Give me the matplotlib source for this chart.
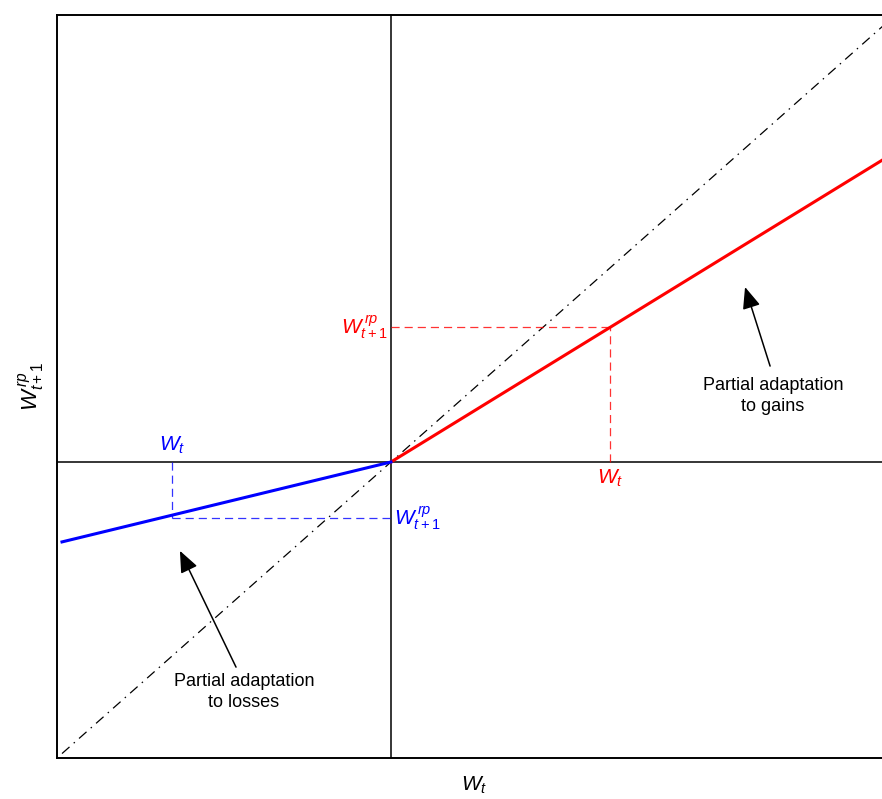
import numpy as np
import matplotlib
matplotlib.use("Agg")
import matplotlib.pyplot as plt

plt.rcParams['font.family'] = ['Liberation Sans', 'DejaVu Sans']
plt.rcParams['mathtext.fontset'] = 'custom'
plt.rcParams['mathtext.rm'] = 'Liberation Sans'
plt.rcParams['mathtext.it'] = 'Liberation Sans:italic'

# data
diag_x = [-0.985, 1.5]
gain_x = [0.0, 1.5]
gain_y = [0.0, 1.04]
loss_x = [-0.985, 0.0]
loss_y = [-0.27, 0.0]
wt_gain, wrp_gain = 0.656, 0.455
wt_loss, wrp_loss = -0.656, -0.19

fig = plt.figure(figsize=(8.82, 7.99), dpi=100)
ax = fig.add_axes([57 / 882, 1 - 758 / 799, 835 / 882, 743 / 799])

ax.plot(diag_x, diag_x, color='black', linestyle=(0, (8, 4.5, 1.2, 4.5)), linewidth=0.9)
ax.axhline(0, color='black', linewidth=1.1)
ax.axvline(0, color='black', linewidth=1.1)

ax.plot(gain_x, gain_y, color='red', linewidth=2.2)
ax.plot(loss_x, loss_y, color='blue', linewidth=2.2)

# dashed guide lines
dash = (0, (6.5, 4))
ax.plot([0, wt_gain], [wrp_gain, wrp_gain], color='red', linestyle=dash, linewidth=0.9, alpha=0.8)
ax.plot([wt_gain, wt_gain], [0, wrp_gain], color='red', linestyle=dash, linewidth=0.9, alpha=0.8)
ax.plot([wt_loss, 0], [wrp_loss, wrp_loss], color='blue', linestyle=dash, linewidth=0.9, alpha=0.8)
ax.plot([wt_loss, wt_loss], [0, wrp_loss], color='blue', linestyle=dash, linewidth=0.9, alpha=0.8)

fs = 15
ax.text(-0.01, wrp_gain, r'$W^{\,rp}_{t+1}$', color='red', fontsize=fs, ha='right', va='center')
ax.text(wt_gain, -0.02, r'$W_t$', color='red', fontsize=fs, ha='center', va='top')
ax.text(wt_loss, 0.02, r'$W_t$', color='blue', fontsize=fs, ha='center', va='bottom')
ax.text(0.01, wrp_loss, r'$W^{\,rp}_{t+1}$', color='blue', fontsize=fs, ha='left', va='center')

arrow = dict(arrowstyle='-|>,head_length=0.6,head_width=0.25', color='black', linewidth=1.1,
             mutation_scale=22, shrinkA=0, shrinkB=0)
ax.annotate('', xy=(1.06, 0.591), xytext=(1.135, 0.324), arrowprops=arrow)
ax.text(1.144, 0.223, 'Partial adaptation\nto gains', fontsize=13, ha='center', va='center',
        linespacing=1.35)
ax.annotate('', xy=(-0.632, -0.30), xytext=(-0.464, -0.693), arrowprops=arrow)
ax.text(-0.44, -0.777, 'Partial adaptation\nto losses', fontsize=13, ha='center', va='center',
        linespacing=1.35)

ax.set_xlim(-1, 1.5)
ax.set_ylim(-1, 1.51)
ax.set_xticks([])
ax.set_yticks([])
for s in ax.spines.values():
    s.set_linewidth(1.4)

ax.set_xlabel(r'$W_t$', fontsize=15, labelpad=12)
ax.set_ylabel(r'$W^{\,rp}_{t+1}$', fontsize=16, labelpad=8)

fig.savefig('out.png', dpi=100)
